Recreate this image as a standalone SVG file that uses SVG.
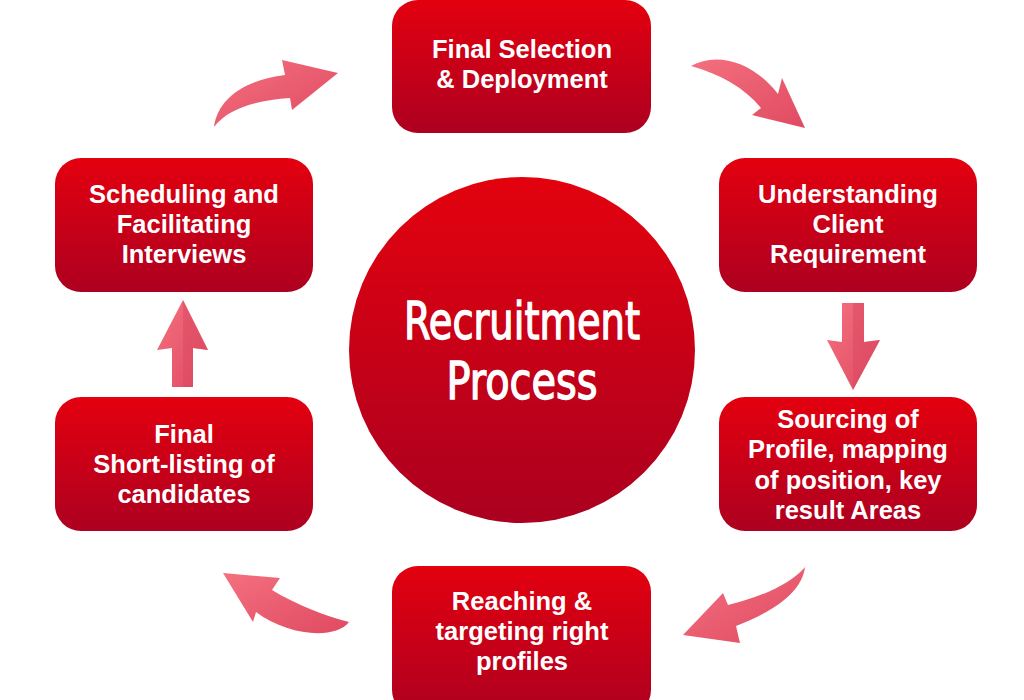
<svg xmlns="http://www.w3.org/2000/svg" width="1024" height="700" viewBox="0 0 1024 700">
<style>
.box{fill:url(#boxG)}
.lbl{font-family:"Liberation Sans",Arial,sans-serif;font-weight:bold;font-size:25.5px;fill:#fff;text-anchor:middle}
.ctr{font-family:"DejaVu Sans Condensed","DejaVu Sans",sans-serif;font-size:51px;fill:#fff;stroke:#fff;stroke-width:1.3px;text-anchor:middle;font-stretch:condensed}
.arr{fill:url(#arrG)}
.arrD{fill:#d9485f}
</style>
<defs>
<linearGradient id="boxG" x1="0" y1="0" x2="0" y2="1">
<stop offset="0" stop-color="#e3000f"/>
<stop offset="1" stop-color="#ad0020"/>
</linearGradient>
<linearGradient id="cirG" x1="0" y1="0" x2="0" y2="1">
<stop offset="0" stop-color="#e3020e"/>
<stop offset="1" stop-color="#ab0020"/>
</linearGradient>
<linearGradient id="arrG" x1="0" y1="0" x2="1" y2="1">
<stop offset="0" stop-color="#f4707f"/>
<stop offset="1" stop-color="#e04a62"/>
</linearGradient>
</defs>
<rect width="1024" height="700" fill="#fff"/>

<g id="connectors">
<path class="arr" d="M214 127 C218 98 245 80 285 75 L282 60 L338 73 L292 110 L290 98 C258 100 228 108 214 127 Z"/>
<path class="arr" d="M691 66 C715 52 752 60 778 94 L782 78 L805 128 L752 115 L761 108 C745 88 720 74 691 66 Z"/>
<path class="arr" d="M842 303 L864 303 L864 342 L880 340 L853 390 L827 340 L842 342 Z"/>
<path class="arrD" d="M853 303 L864 303 L864 342 L880 340 L853 390 Z" opacity="0.5"/>
<path class="arr" d="M805 567 C802 593 772 612 736 626 L740 643 L683 635 L723 593 L728 605 C760 597 790 585 805 567 Z"/>
<path class="arr" d="M223 573 L280 578 L272 590 C295 604 325 616 349 622 C335 640 288 636 256 612 L253 622 Z"/>
<path class="arr" d="M183 300 L208 350 L193 348 L193 387 L172 387 L172 348 L157 350 Z"/>
<path class="arrD" d="M183 300 L208 350 L193 348 L193 387 L183 387 Z" opacity="0.5"/>
</g>

<g id="center">
<circle cx="522" cy="350" r="173" fill="url(#cirG)"/>
<text class="ctr" x="522" y="339" textLength="236" lengthAdjust="spacingAndGlyphs">Recruitment</text>
<text class="ctr" x="522" y="399" textLength="151" lengthAdjust="spacingAndGlyphs">Process</text>
</g>

<g id="n1">
<rect class="box" x="392" y="0" width="259" height="133" rx="26"/>
<text class="lbl" x="522" y="58">Final Selection</text>
<text class="lbl" x="522" y="88">&amp; Deployment</text>
</g>
<g id="n2">
<rect class="box" x="719" y="158" width="258" height="134" rx="26"/>
<text class="lbl" x="848" y="203">Understanding</text>
<text class="lbl" x="848" y="233">Client</text>
<text class="lbl" x="848" y="263">Requirement</text>
</g>
<g id="n3">
<rect class="box" x="719" y="397" width="258" height="134" rx="26"/>
<text class="lbl" x="848" y="428">Sourcing of</text>
<text class="lbl" x="848" y="458">Profile, mapping</text>
<text class="lbl" x="848" y="489">of position, key</text>
<text class="lbl" x="848" y="519">result Areas</text>
</g>
<g id="n4">
<rect class="box" x="392" y="566" width="259" height="150" rx="26"/>
<text class="lbl" x="522" y="610">Reaching &amp;</text>
<text class="lbl" x="522" y="640">targeting right</text>
<text class="lbl" x="522" y="670">profiles</text>
</g>
<g id="n5">
<rect class="box" x="55" y="397" width="258" height="134" rx="26"/>
<text class="lbl" x="184" y="443">Final</text>
<text class="lbl" x="184" y="473">Short-listing of</text>
<text class="lbl" x="184" y="503">candidates</text>
</g>
<g id="n6">
<rect class="box" x="55" y="158" width="258" height="134" rx="26"/>
<text class="lbl" x="184" y="203">Scheduling and</text>
<text class="lbl" x="184" y="233">Facilitating</text>
<text class="lbl" x="184" y="263">Interviews</text>
</g>
</svg>
